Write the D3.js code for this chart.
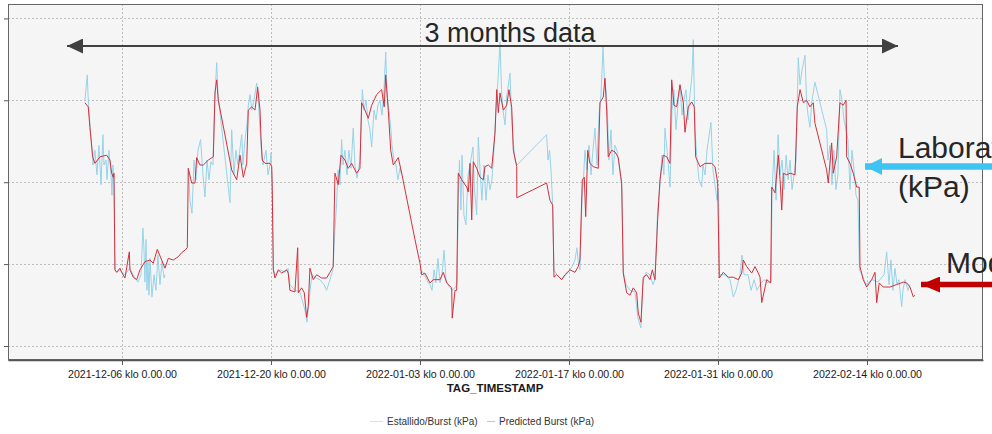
<!DOCTYPE html>
<html>
<head>
<meta charset="utf-8">
<script src="https://cdn.jsdelivr.net/npm/d3@7/dist/d3.min.js"></script>
<style>
  html, body { margin: 0; padding: 0; background: #ffffff; }
  svg { display: block; font-family: "Liberation Sans", Arial, sans-serif; }
</style>
</head>
<body>
<svg id="chart" width="992" height="434"></svg>
<script>
// ---------- DATA (day offsets relative to 2021-12-06 00:00) ----------
const xTickDates = ["2021-12-06", "2021-12-20", "2022-01-03", "2022-01-17", "2022-01-31", "2022-02-14"];
const xTickLabels = ["2021-12-06 klo 0.00.00", "2021-12-20 klo 0.00.00", "2022-01-03 klo 0.00.00",
                     "2022-01-17 klo 0.00.00", "2022-01-31 klo 0.00.00", "2022-02-14 klo 0.00.00"];
const yTickValues = [100, 200, 300, 400, 500];
const seriesNames = ["Estallido/Burst (kPa)", "Predicted Burst (kPa)"];

const predDays = [-3.48,-3.17,-3.01,-2.75,-2.54,-2.07,-1.44,-1.13,-0.97,-0.82,-0.75,-0.66,-0.50,-0.19,-0.03,0.28,0.69,0.75,1.06,1.38,1.69,2.16,2.63,2.94,3.32,3.73,4.04,4.35,4.82,5.29,5.61,5.92,6.14,6.23,6.55,6.86,7.02,7.33,7.64,8.11,8.58,8.74,8.90,9.05,10.31,10.46,10.78,11.09,11.40,11.72,11.87,12.19,12.50,12.75,12.97,13.06,13.18,13.44,13.91,14.07,14.12,14.22,14.38,14.69,15.01,15.47,15.62,15.78,16.25,16.51,16.57,16.88,17.13,17.35,17.50,17.66,17.97,18.29,18.76,19.23,19.54,19.85,20.01,20.32,20.58,20.95,21.26,21.58,22.05,22.36,22.52,22.83,23.14,23.46,23.93,24.40,24.64,24.78,25.02,25.25,25.49,25.96,26.28,27.53,28.00,28.16,28.47,28.94,29.25,29.88,30.19,30.51,30.98,31.03,31.29,31.45,31.60,31.92,32.39,32.54,32.70,32.86,33.01,33.33,33.64,33.95,34.11,34.42,34.74,35.05,35.21,35.36,35.52,35.83,36.15,36.36,36.62,36.77,37.09,37.10,39.90,40.21,40.47,40.59,40.84,41.31,41.62,42.09,42.56,42.87,43.03,43.25,43.44,43.57,43.76,43.97,44.28,44.75,44.91,45.22,45.38,45.54,45.69,46.01,46.32,46.63,46.95,47.10,47.42,47.73,48.04,48.36,48.51,48.76,48.98,49.30,49.61,49.83,50.08,50.33,50.55,50.86,51.18,51.49,51.65,51.86,52.12,52.43,52.74,52.90,53.21,53.53,53.77,53.90,54.31,54.78,55.41,55.72,55.97,56.12,56.50,56.97,57.44,57.91,58.23,58.38,58.70,59.17,59.48,59.79,59.95,60.11,60.58,60.95,61.05,61.36,61.67,61.83,61.99,62.14,62.46,62.77,63.24,63.45,63.71,64.02,64.33,64.64,64.95,65.11,66.21,66.36,66.68,66.83,67.15,67.46,67.77,68.03,68.09,68.40,68.71,69.03,69.27,69.34,69.65,69.97,70.44,70.75,70.91,71.15,71.53,72.16,72.79,73.41,73.73,74.04,74.35,74.51];
const predictedBurst = [397,392,367,331,323,331,333,327,311,306,311,193,190,195,190,183,215,193,184,181,193,203,205,201,218,205,195,207,205,209,214,217,220,317,299,299,330,321,321,327,331,409,425,400,315,311,303,333,306,323,388,392,388,416,388,355,327,323,323,319,291,193,183,193,189,193,189,168,166,220,165,171,165,135,148,195,181,187,183,183,190,197,311,297,333,327,317,323,311,317,397,388,378,394,407,413,392,431,388,339,321,330,311,230,201,187,189,177,181,181,190,177,171,134,168,168,311,303,294,288,323,254,325,317,306,303,319,321,317,360,413,385,409,388,394,413,391,339,319,281,299,278,272,184,187,181,187,193,190,197,205,303,306,258,339,323,319,317,397,404,427,388,331,339,337,330,299,189,165,162,171,165,140,129,184,187,181,193,181,254,303,333,331,323,425,394,392,419,397,361,392,398,392,331,319,323,323,319,299,183,190,184,184,181,189,205,197,189,197,189,184,153,181,177,294,287,333,303,266,311,309,311,309,392,413,397,400,392,397,372,315,299,348,311,331,397,394,400,331,323,311,294,294,197,181,172,181,190,153,177,172,172,175,178,177,172,160,162];

const labDays = [-3.48,-3.26,-3.19,-3.01,-2.82,-2.73,-2.54,-2.35,-2.16,-1.97,-1.79,-1.69,-1.50,-1.41,-1.22,-1.03,-0.94,-0.85,-0.75,-0.66,-0.47,-0.19,0.28,0.75,1.22,1.50,1.79,1.97,2.07,2.16,2.26,2.35,2.44,2.54,2.63,2.82,3.01,3.19,3.38,3.57,3.76,3.95,4.04,5.00,6.25,6.39,6.58,6.77,6.95,7.14,7.39,7.61,7.80,7.99,8.17,8.36,8.55,8.74,8.90,9.02,10.15,10.31,10.52,10.71,10.90,11.25,11.37,11.56,11.74,11.87,12.03,12.21,12.40,12.66,12.78,12.92,13.06,13.25,13.53,13.72,13.91,14.00,14.12,14.22,14.38,14.85,15.32,15.60,15.78,16.25,16.72,17.19,17.38,17.57,17.85,18.23,18.60,18.98,19.23,19.54,19.82,20.01,20.17,20.30,20.48,20.64,20.76,20.95,21.14,21.32,21.52,21.73,21.89,22.08,22.36,22.58,22.74,22.93,23.11,23.30,23.46,23.68,23.87,24.05,24.24,24.43,24.62,24.78,24.90,25.09,25.27,25.37,25.56,25.74,25.93,26.12,26.28,27.00,28.00,28.28,28.57,28.75,28.94,29.13,29.32,29.50,29.69,29.88,30.07,30.26,30.45,30.63,30.82,31.01,31.29,31.48,31.60,31.71,31.85,31.95,32.13,32.32,32.51,32.70,32.98,33.12,33.33,33.48,33.64,33.82,34.01,34.20,34.39,34.58,34.76,34.95,35.14,35.33,35.52,35.66,35.80,35.99,36.17,36.46,36.60,36.74,36.93,37.11,39.90,40.03,40.17,40.31,40.45,40.59,40.87,41.34,41.72,42.09,42.37,42.56,42.75,42.87,43.03,43.22,43.36,43.50,43.69,43.88,44.07,44.25,44.44,44.63,44.82,45.01,45.20,45.33,45.48,45.62,45.76,45.95,46.13,46.32,46.51,46.70,46.89,46.98,47.10,47.36,47.73,48.20,48.48,48.76,48.95,49.24,49.61,49.89,50.08,50.33,50.55,50.74,50.92,51.02,51.30,51.49,51.68,51.86,52.05,52.24,52.43,52.62,52.80,52.99,53.18,53.37,53.56,53.68,53.84,54.03,54.21,54.47,54.59,54.78,54.97,55.34,55.53,55.72,55.91,56.05,56.14,56.66,57.13,57.44,57.69,57.88,58.07,58.26,58.45,58.82,59.11,59.39,59.67,59.95,60.33,60.70,60.99,61.08,61.27,61.46,61.65,61.83,62.02,62.21,62.40,62.59,62.77,62.96,63.15,63.34,63.54,63.71,63.90,64.18,64.32,64.46,64.64,64.83,65.11,66.21,66.33,66.52,66.71,66.89,67.08,67.27,67.46,67.65,67.84,68.03,68.21,68.40,68.59,68.78,68.97,69.15,69.29,69.53,69.90,70.47,71.03,71.60,71.85,72.07,72.25,72.44,72.63,72.82,73.00,73.26,73.38,73.57,73.85,74.04];
const labBurst = [400,431,407,370,339,321,339,309,345,297,358,321,327,303,339,309,284,321,297,193,190,193,187,195,183,178,187,244,217,178,230,168,203,162,207,160,187,168,211,175,203,183,187,null,315,278,262,327,303,339,352,309,282,327,303,325,321,407,446,407,275,364,309,339,321,358,321,352,370,394,407,388,400,421,407,376,345,321,339,309,321,336,297,193,187,193,190,195,175,168,166,144,129,156,187,183,181,175,168,181,193,242,275,315,297,352,321,339,309,339,317,366,321,305,327,413,388,400,376,364,343,388,376,394,400,382,413,459,407,388,364,345,327,321,303,317,309,null,193,190,183,178,175,168,193,177,207,177,187,217,181,175,171,168,171,175,278,327,266,333,260,248,309,321,343,291,260,355,315,278,321,278,309,291,303,339,388,425,471,413,388,370,407,433,382,352,327,321,358,327,339,315,278,193,187,181,187,193,199,205,220,203,193,278,303,339,315,345,309,339,366,321,382,407,465,425,413,382,327,364,309,345,339,321,303,291,190,175,168,166,134,122,178,190,187,175,181,266,297,333,309,366,327,294,388,413,364,394,419,382,400,413,376,407,431,474,364,327,303,294,321,309,339,373,315,297,278,291,187,187,181,160,168,177,187,211,187,187,168,181,168,175,181,177,178,291,339,278,358,309,327,291,333,303,327,291,309,327,452,419,437,455,400,382,367,400,422,364,327,345,297,339,291,309,413,400,376,364,352,291,339,315,284,278,193,187,175,181,178,187,215,175,205,168,195,175,181,148,168,181,168,175];

// ---------- LAYOUT ----------
const W = 992, H = 434;
const panel = { left: 8, top: 4, right: 983, bottom: 360 };
const baseDate = new Date(2021, 11, 6, 0, 0, 0);
const DAY = 864e5;
const toDate = d => new Date(baseDate.getTime() + d * DAY);
const parseDay = d3.timeParse("%Y-%m-%d");

const svg = d3.select("#chart");

// panel background
svg.append("rect")
  .attr("x", panel.left).attr("y", panel.top)
  .attr("width", panel.right - panel.left).attr("height", panel.bottom - panel.top)
  .attr("fill", "#f5f5f5");

const x = d3.scaleTime()
  .domain([new Date(2021, 10, 25, 7, 0), new Date(2022, 1, 24, 21, 36)])
  .range([panel.left, panel.right]);
const y = d3.scaleLinear()
  .domain([82.9, 517.6])
  .range([panel.bottom, panel.top]);

const tickDates = xTickDates.map(parseDay);

// gridlines
const grid = svg.append("g").attr("stroke", "#bdbdbd").attr("stroke-width", 1).attr("stroke-dasharray", "2,2");
grid.selectAll("line.v").data(tickDates).join("line")
  .attr("x1", d => Math.round(x(d)) + 0.5).attr("x2", d => Math.round(x(d)) + 0.5)
  .attr("y1", panel.top).attr("y2", panel.bottom);
grid.selectAll("line.h").data(yTickValues).join("line")
  .attr("x1", panel.left).attr("x2", panel.right)
  .attr("y1", d => Math.round(y(d)) + 0.5).attr("y2", d => Math.round(y(d)) + 0.5);

// series
const labPts = labDays.map((d, i) => ({ t: toDate(d), v: labBurst[i] }));
const predPts = predDays.map((d, i) => ({ t: toDate(d), v: predictedBurst[i] }));
const line = d3.line().defined(p => p.v != null).x(p => x(p.t)).y(p => y(p.v));

svg.append("path").datum(labPts)
  .attr("d", line).attr("fill", "none")
  .attr("stroke", "#96d3e9").attr("stroke-width", 1).attr("stroke-linejoin", "round");
svg.append("path").datum(predPts)
  .attr("d", line).attr("fill", "none")
  .attr("stroke", "#d3303b").attr("stroke-width", 1).attr("stroke-linejoin", "round");

// panel border
svg.append("rect")
  .attr("x", panel.left + 0.5).attr("y", panel.top + 0.5)
  .attr("width", panel.right - panel.left - 1).attr("height", panel.bottom - panel.top - 1)
  .attr("fill", "none").attr("stroke", "#666").attr("stroke-width", 1);

// x axis
const xAxis = d3.axisBottom(x).tickValues(tickDates)
  .tickFormat((d, i) => xTickLabels[i]).tickSize(5).tickSizeOuter(0);
const gx = svg.append("g").attr("transform", `translate(0,${panel.bottom})`).call(xAxis);
gx.select(".domain").attr("stroke", "#555").attr("stroke-width", 1.3);
gx.selectAll(".tick line").attr("stroke", "#555");
gx.selectAll(".tick text").attr("fill", "#1a1a1a").attr("font-size", "10.6px")
  .attr("font-family", "'Liberation Sans', Arial, sans-serif").attr("dy", "0.95em");

// y axis (labels fall outside the visible crop)
const yAxis = d3.axisLeft(y).tickValues(yTickValues).tickFormat("").tickSize(4).tickSizeOuter(0);
const gy = svg.append("g").attr("transform", `translate(${panel.left},0)`).call(yAxis);
gy.select(".domain").attr("stroke", "#666");
gy.selectAll(".tick line").attr("stroke", "#555");

// axis title
svg.append("text").attr("x", 495).attr("y", 392).attr("text-anchor", "middle")
  .attr("font-size", "11.5px").attr("font-weight", "bold").attr("fill", "#1a1a1a")
  .text("TAG_TIMESTAMP");

// legend
const legendItems = [
  { name: seriesNames[0], color: "#c9e6f2", lx: 370, tx: 387 },
  { name: seriesNames[1], color: "#efb3b7", lx: 487, tx: 499 }
];
const lg = svg.append("g");
legendItems.forEach(it => {
  lg.append("line").attr("x1", it.lx).attr("x2", it.tx - 4).attr("y1", 421.5).attr("y2", 421.5)
    .attr("stroke", it.color).attr("stroke-width", 1);
  lg.append("text").attr("x", it.tx).attr("y", 425).attr("font-size", "10px").attr("fill", "#333")
    .text(it.name);
});

// annotations
const defs = svg.append("defs");
function arrowHead(id, color, w, h) {
  defs.append("marker").attr("id", id).attr("viewBox", `0 0 ${w} ${h}`)
    .attr("refX", w).attr("refY", h / 2).attr("markerWidth", w).attr("markerHeight", h)
    .attr("markerUnits", "userSpaceOnUse").attr("orient", "auto-start-reverse")
    .append("path").attr("d", `M0,0L${w},${h / 2}L0,${h}Z`).attr("fill", color);
}
arrowHead("ahGray", "#404040", 16, 15);
arrowHead("ahBlue", "#3fc3f2", 17, 17);
arrowHead("ahRed", "#c00000", 19, 16);

svg.append("line").attr("x1", 67).attr("x2", 898).attr("y1", 46).attr("y2", 46)
  .attr("stroke", "#404040").attr("stroke-width", 2)
  .attr("marker-start", "url(#ahGray)").attr("marker-end", "url(#ahGray)");
svg.append("text").attr("x", 510).attr("y", 42).attr("text-anchor", "middle")
  .attr("font-size", "27px").attr("fill", "#262626").text("3 months data");

svg.append("line").attr("x1", 1000).attr("x2", 865).attr("y1", 166.5).attr("y2", 166.5)
  .attr("stroke", "#3fc3f2").attr("stroke-width", 6.5).attr("marker-end", "url(#ahBlue)");
svg.append("text").attr("x", 898).attr("y", 158).attr("font-size", "30px").attr("fill", "#262626")
  .text("Laboratory Burst");
svg.append("text").attr("x", 898).attr("y", 197).attr("font-size", "30px").attr("fill", "#262626")
  .text("(kPa)");

svg.append("line").attr("x1", 1000).attr("x2", 921).attr("y1", 284.5).attr("y2", 284.5)
  .attr("stroke", "#c00000").attr("stroke-width", 5.5).attr("marker-end", "url(#ahRed)");
svg.append("text").attr("x", 946).attr("y", 273).attr("font-size", "30px").attr("fill", "#262626")
  .text("Model Predicted Burst");
</script>
</body>
</html>
